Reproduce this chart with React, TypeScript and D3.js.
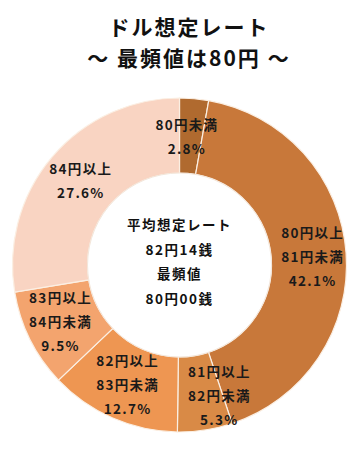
import React from "react";
import * as d3 from "d3";

const categories = ["80円未満", "80円以上\n81円未満", "81円以上\n82円未満", "82円以上\n83円未満", "83円以上\n84円未満", "84円以上"];
const values = [2.8, 42.1, 5.3, 12.7, 9.5, 27.6];
const colors = ["#B06A2F", "#C8783A", "#D98A46", "#EE9652", "#F3A46E", "#F9D4C2"];
const titleLines = ["ドル想定レート", "～ 最頻値は80円 ～"];
const centerLines = ["平均想定レート", "82円14銭", "最頻値", "80円00銭"];
// small label nudges (px), like manually dragged Excel labels
const labelNudge: [number, number][] = [[-4, 0], [4, 0], [20, 2], [0, 0], [-3, -2], [0, -1]];

const W = 358, H = 452;
const FONT = "'Noto Sans CJK JP', 'Noto Sans', sans-serif";

export default function App() {
  const cx = 179.5, cy = 265, outerR = 167, innerR = 92;
  const pie = d3.pie<number>().sort(null).value((d) => d)(values);
  const arc = d3.arc<d3.PieArcDatum<number>>().innerRadius(innerR).outerRadius(outerR);
  const labelArc = d3.arc<d3.PieArcDatum<number>>().innerRadius((innerR + outerR) / 2).outerRadius((innerR + outerR) / 2);
  const lineGap = 24;
  return (
    <svg width={W} height={H} style={{ position: "absolute", left: 0, top: 0, background: "#fff" }}>
      <rect width={W} height={H} fill="#fff" />
      <g fontFamily={FONT} fontWeight="bold" fill="#111" textAnchor="middle">
        <text x={189} y={26} fontSize={21} letterSpacing={2} dominantBaseline="central">{titleLines[0]}</text>
        <text x={189} y={57} fontSize={21} letterSpacing={2} dominantBaseline="central" style={{ whiteSpace: "pre" }}>{titleLines[1]}</text>
      </g>
      <g transform={`translate(${cx},${cy})`}>
        {pie.map((p, i) => (
          <path key={i} d={arc(p) || ""} fill={colors[i]} stroke="#FBEFE3" strokeWidth={1.2} />
        ))}
        <circle r={innerR} fill="#fff" stroke="#F3E6DA" strokeWidth={1} />
        {pie.map((p, i) => {
          const [x, y] = labelArc.centroid(p);
          const lines = [...categories[i].split("\n"), `${values[i].toFixed(1)}%`];
          const x0 = x + labelNudge[i][0];
          const y0 = y + labelNudge[i][1] - ((lines.length - 1) * lineGap) / 2;
          return (
            <text key={i} fontFamily={FONT} fontSize={13.5} fontWeight="bold" letterSpacing={1.3} fill="#1a1a1a" textAnchor="middle">
              {lines.map((l, j) => (
                <tspan key={j} x={x0} y={y0 + j * lineGap} dominantBaseline="central">{l}</tspan>
              ))}
            </text>
          );
        })}
        <text fontFamily={FONT} fontSize={13.5} fontWeight="bold" letterSpacing={1.5} fill="#111" textAnchor="middle">
          {centerLines.map((l, j) => (
            <tspan key={j} x={0} y={-41 + j * 24.5} dominantBaseline="central">{l}</tspan>
          ))}
        </text>
      </g>
    </svg>
  );
}
